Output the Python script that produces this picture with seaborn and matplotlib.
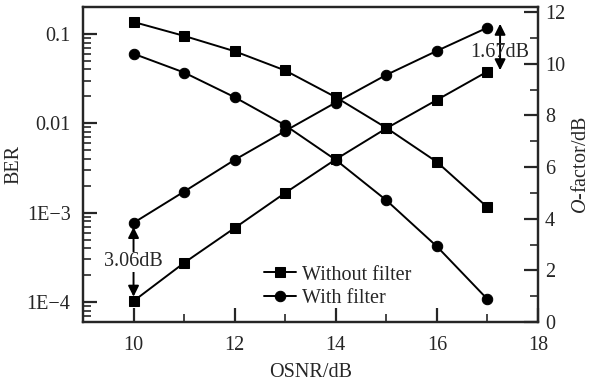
import numpy as np
import pandas as pd
import matplotlib
matplotlib.use("Agg")
import matplotlib.pyplot as plt
import matplotlib.ticker as mticker
import seaborn as sns

# OSNR sweep (dB)
osnr = [10, 11, 12, 13, 14, 15, 16, 17]

# BER curves (left axis, log)
ber_without = [0.136, 0.095, 0.064, 0.039, 0.0196, 0.0089, 0.0037, 0.00115]
ber_with = [0.060, 0.037, 0.0196, 0.0095, 0.0039, 0.00138, 0.00042, 0.000108]

# Q-factor curves (right axis, dB)
q_without = [0.81, 2.29, 3.64, 5.0, 6.3, 7.5, 8.6, 9.7]
q_with = [3.84, 5.05, 6.28, 7.4, 8.5, 9.57, 10.5, 11.4]

ber_ticks = [1e-4, 1e-3, 1e-2, 1e-1]
ber_labels = ["1E\u22124", "1E\u22123", "0.01", "0.1"]

sns.set_style("ticks")
plt.rcParams["font.family"] = ["Liberation Serif", "DejaVu Serif"]
plt.rcParams["mathtext.fontset"] = "custom"
plt.rcParams["mathtext.it"] = "Liberation Serif:italic"
plt.rcParams["mathtext.rm"] = "Liberation Serif"
plt.rcParams["font.size"] = 14.5

fs = 14.5
fig = plt.figure(figsize=(5.91, 3.86), dpi=100)
ax = fig.add_axes([0.1404, 0.1658, 0.7699, 0.8161])
ax2 = ax.twinx()

df = pd.DataFrame({"osnr": osnr, "ber_wo": ber_without, "ber_w": ber_with,
                   "q_wo": q_without, "q_w": q_with})

kw = dict(color="black", linewidth=1.4, markeredgecolor="black")
sns.lineplot(data=df, x="osnr", y="ber_wo", ax=ax, marker="s", markersize=6.5, **kw)
sns.lineplot(data=df, x="osnr", y="ber_w", ax=ax, marker="o", markersize=7.5, **kw)
sns.lineplot(data=df, x="osnr", y="q_wo", ax=ax2, marker="s", markersize=6.5,
             label="Without filter", **kw)
sns.lineplot(data=df, x="osnr", y="q_w", ax=ax2, marker="o", markersize=7.5,
             label="With filter", **kw)

ax.set_yscale("log")
ax.set_xlim(9, 18)
ax.set_ylim(6e-5, 0.2)
ax2.set_ylim(0, 12.2)

ax.yaxis.set_major_locator(mticker.FixedLocator(ber_ticks))
ax.yaxis.set_major_formatter(mticker.FixedFormatter(ber_labels))
ax.yaxis.set_minor_locator(mticker.LogLocator(base=10, subs=np.arange(2, 10), numticks=20))
ax.yaxis.set_minor_formatter(mticker.NullFormatter())
ax.xaxis.set_major_locator(mticker.MultipleLocator(2))
ax.xaxis.set_minor_locator(mticker.MultipleLocator(1))
ax2.yaxis.set_major_locator(mticker.MultipleLocator(2))
ax2.yaxis.set_minor_locator(mticker.MultipleLocator(1))

for a in (ax, ax2):
    for s in a.spines.values():
        s.set_linewidth(1.6)
        s.set_visible(True)
    a.tick_params(which="major", direction="in", length=10, width=1.6, labelsize=fs)
    a.tick_params(which="minor", direction="in", length=5.5, width=1.2)
ax.tick_params(axis="y", which="both", right=False, pad=9)
ax.tick_params(axis="x", which="both", top=False, pad=10)
ax2.tick_params(axis="y", which="both", left=False, pad=5)

ax.set_xlabel("OSNR/dB", fontsize=fs, labelpad=6)
ax.set_ylabel("BER", fontsize=fs, labelpad=2)
ax2.set_ylabel("$\\mathit{O}$-factor/dB", fontsize=fs, labelpad=5)

# difference annotations
ax2.annotate("", xy=(10, 3.68), xytext=(10, 0.98),
             arrowprops=dict(arrowstyle="<|-|>", color="black", lw=1.4,
                             mutation_scale=16, shrinkA=0, shrinkB=0))
ax2.text(10, 2.33, "3.06dB", ha="center", va="center", fontsize=fs,
         bbox=dict(facecolor="white", edgecolor="none", pad=0.5))
ax2.annotate("", xy=(17.25, 11.55), xytext=(17.25, 9.75),
             arrowprops=dict(arrowstyle="<|-|>", color="black", lw=1.4,
                             mutation_scale=16, shrinkA=0, shrinkB=0))
ax2.text(17.25, 10.45, "1.67dB", ha="center", va="center", fontsize=fs)

leg = ax2.legend(loc="lower left", bbox_to_anchor=(0.38, 0.02), frameon=False,
                 fontsize=fs, handlelength=1.6, handletextpad=0.3,
                 labelspacing=0.2, borderaxespad=0)

plt.savefig("out.png", dpi=100)
